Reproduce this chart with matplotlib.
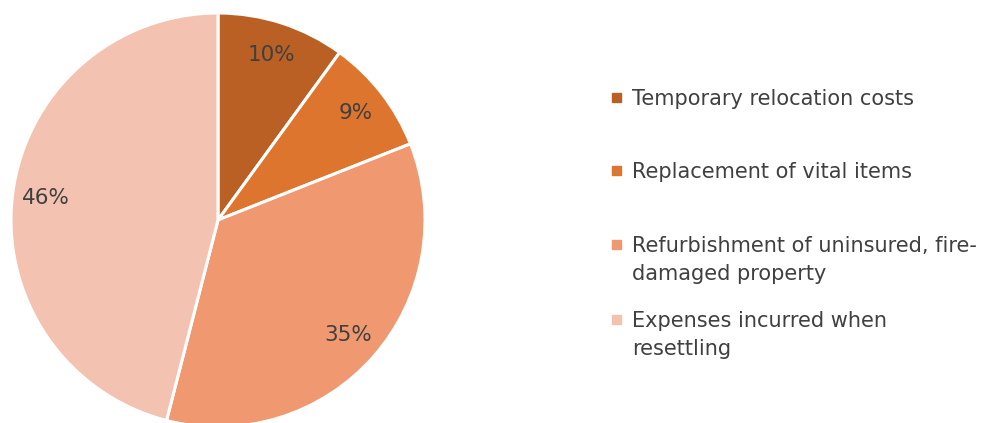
import matplotlib.pyplot as plt
from matplotlib.patches import Rectangle

categories = ["Temporary relocation costs",
              "Replacement of vital items",
              "Refurbishment of uninsured, fire-\ndamaged property",
              "Expenses incurred when\nresettling"]
shares = [10, 9, 35, 46]
colors = ['#BA6024', '#DE752F', '#F09870', '#F4C2B1']
text_color = '#404040'

plt.rcParams['font.family'] = ['DejaVu Sans']

fig = plt.figure(figsize=(9.92, 4.23), dpi=100)
W, H = 992, 423
cx, cy, r = 218, 220, 207
ax = fig.add_axes([(cx - r) / W, (H - cy - r) / H, 2 * r / W, 2 * r / H])
ax.pie(shares, colors=colors, startangle=90, counterclock=False,
       autopct='%1.0f%%', pctdistance=0.84,
       wedgeprops=dict(edgecolor='white', linewidth=2.2),
       textprops=dict(color=text_color, fontsize=15.5))
ax.set_xlim(-1, 1)
ax.set_ylim(-1, 1)
ax.set_aspect('equal')
ax.axis('off')

# legend drawn by hand (entries are unevenly spaced in the original)
first_baseline = [105, 178, 252, 327]
line_gap = 28
for lab, col, y in zip(categories, colors, first_baseline):
    fig.patches.append(Rectangle((612 / W, 1 - (y - 3) / H), 9 / W, 9 / H,
                                 transform=fig.transFigure, color=col))
    # baseline alignment uses the last line of multi-line text
    last = y + line_gap * lab.count('\n')
    fig.text(632 / W, 1 - last / H, lab, color=text_color, fontsize=15,
             va='baseline', ha='left', linespacing=1.47)

fig.savefig('out.png', dpi=100)
